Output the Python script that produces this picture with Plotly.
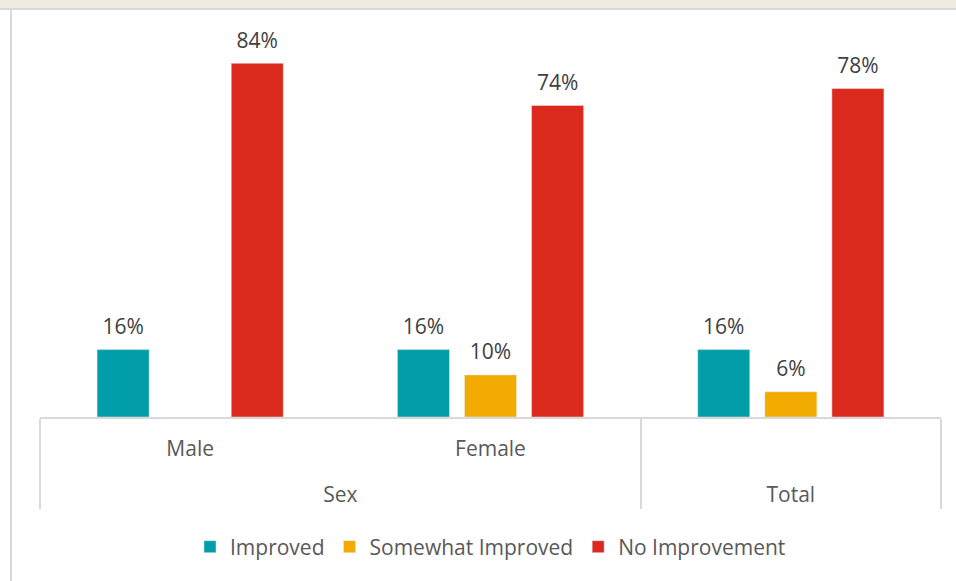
import plotly.graph_objects as go

outer = ["Sex", "Sex", "Total"]
inner = ["Male", "Female", ""]
series_names = ["Improved", "Somewhat Improved", "No Improvement"]
improved = [16, 16, 16]
somewhat = [None, 10, 6]
no_improvement = [84, 74, 78]
colors = ["#019DA8", "#F2AB00", "#DC291E"]

values = [improved, somewhat, no_improvement]

W, H = 956, 581
L, R, T, B = 40, 15, 38, 164
ph = H - T - B
pw = W - L - R

fig = go.Figure()
for name, vals, c in zip(series_names, values, colors):
    fig.add_trace(go.Bar(
        x=[["<br>" + o for o in outer], inner], y=vals, name=name, marker_color=c,
        text=[("" if v is None else f"<span style='font-size:21px'>{v}%</span><br> ") for v in vals],
        textposition="outside", cliponaxis=False,
        textfont=dict(size=8, color="#404040"),
    ))

def px_x(p):
    return (p - L) / pw

def px_y(p):
    return 1 - (p - T) / ph

fig.update_layout(
    width=W, height=H,
    margin=dict(l=L, r=R, t=T, b=B),
    paper_bgcolor="white", plot_bgcolor="white",
    font=dict(family="Open Sans", size=21, color="#595959"),
    barmode="group", bargap=0.33, bargroupgap=0.224,
    showlegend=True,
    legend=dict(orientation="h", x=0.5, xanchor="center", y=px_y(547), yanchor="middle",
                font=dict(size=21, color="#595959"), itemwidth=30, traceorder="normal"),
    xaxis=dict(type="multicategory", showline=True, linecolor="#D9D9D9", linewidth=2,
               showdividers=True, dividercolor="#D9D9D9", dividerwidth=2,
               tickfont=dict(size=21, color="#595959"), ticks="", ticklabelstandoff=12),
    yaxis=dict(range=[0, 90], visible=False, showgrid=False, zeroline=False),
    shapes=[
        dict(type="rect", xref="paper", yref="paper", x0=px_x(0), x1=px_x(W), y0=px_y(8), y1=px_y(0),
             fillcolor="#EEEBE1", line_width=0, layer="above"),
        dict(type="line", xref="paper", yref="paper", x0=px_x(0), x1=px_x(W), y0=px_y(9), y1=px_y(9),
             line=dict(color="#D9D9D9", width=2), layer="above"),
        dict(type="line", xref="paper", yref="paper", x0=px_x(11), x1=px_x(11), y0=px_y(9), y1=px_y(H),
             line=dict(color="#D9D9D9", width=2), layer="above"),
    ],
)

fig.write_html("out.html")
